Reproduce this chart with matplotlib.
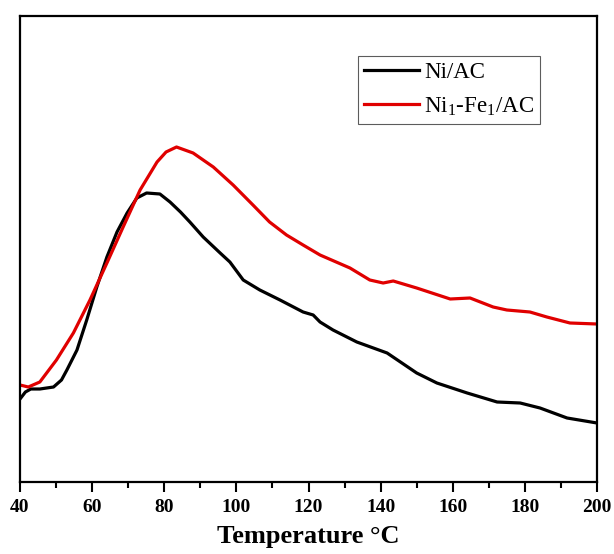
import numpy as np
import matplotlib as mpl
mpl.use('Agg')
import matplotlib.pyplot as plt
from matplotlib.ticker import MultipleLocator as mtloc

# values (intensity in arbitrary units)
temp_ni = [40, 41.5, 43, 45.5, 49.3, 51.5, 53, 55.8, 58.5, 61.3, 64.1, 66.9, 69.7, 72.4,
           75.1, 78.8, 81.6, 84.5, 87.1, 90.8, 95.5, 98.2, 101.9, 106.5, 112.1, 118.5,
           121.3, 123.2, 126.8, 133.4, 141.8, 150, 155.6, 164, 172.3, 178.7, 184.2,
           191.7, 200]
sig_ni = [83, 90, 93, 93, 95, 102, 112, 132, 162, 195, 225, 250, 269, 284,
          289, 288, 280, 270, 260, 245, 229, 220, 202, 192, 182, 170,
          167, 160, 152, 140, 129, 109, 99, 89, 80, 79, 74,
          64, 59]

temp_nife = [40, 42.3, 45.5, 50.1, 54.8, 59.4, 64.1, 68.6, 73.3, 78, 80.5, 83.4, 88,
             93.6, 99.1, 104.6, 109.2, 113.9, 118.5, 123.2, 131.5, 137, 140.7, 143.5,
             150, 159.3, 164.8, 171.2, 175, 181.4, 186.1, 192.5, 200]
sig_nife = [97, 95, 100, 122, 149, 182, 219, 255, 292, 320, 330, 335, 329,
            315, 297, 277, 260, 247, 237, 227, 214, 202, 199, 201,
            194, 183, 184, 175, 172, 170, 165, 159, 158]

Xmin, Xmax, Xmajor, Xminor = 40, 200, 20, 10
TickSize, LabelSize, LegSize = 14, 19, 16.5

plt.rcParams['font.family'] = ['Liberation Serif', 'DejaVu Serif']
plt.rcParams['mathtext.fontset'] = 'custom'
plt.rcParams['mathtext.rm'] = 'Liberation Serif'

fig = plt.figure(figsize=(6.14, 5.54), dpi=100)
ax = fig.add_axes([20/614, 1-482/554, 577/614, 466/554])

ax.plot(temp_ni, sig_ni, color='black', lw=2.3, label='Ni/AC')
ax.plot(temp_nife, sig_nife, color='#e00000', lw=2.3,
        label=r'Ni$_\mathregular{1}$-Fe$_\mathregular{1}$/AC')

ax.set_xlim(Xmin, Xmax)
ax.set_ylim(0, 466)
ax.set_xticks(np.arange(Xmin, Xmax+1, Xmajor))
ax.xaxis.set_minor_locator(mtloc(Xminor))
ax.set_yticks([])
ax.tick_params(axis='x', which='major', direction='out', length=7, width=1.5,
               labelsize=TickSize, pad=5)
ax.tick_params(axis='x', which='minor', direction='out', length=4, width=1.5)
for lab in ax.get_xticklabels():
    lab.set_fontweight('bold')
for sp in ax.spines.values():
    sp.set_linewidth(1.6)
ax.set_xlabel('Temperature °C', fontsize=LabelSize, fontweight='bold', labelpad=7)

leg = ax.legend(loc='upper right', bbox_to_anchor=(0.901, 0.914), borderaxespad=0,
                fontsize=LegSize, frameon=True, fancybox=False, handlelength=2.4,
                handletextpad=0.25, borderpad=0.25, labelspacing=0.55)
leg.get_frame().set_edgecolor('#333333')
leg.get_frame().set_linewidth(0.8)

fig.savefig('out.png', dpi=100)
